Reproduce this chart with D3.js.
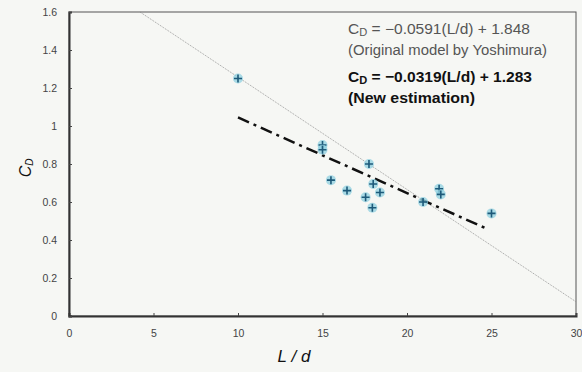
<!DOCTYPE html>
<html>
<head>
<meta charset="utf-8">
<script src="https://cdn.jsdelivr.net/npm/d3@7"></script>
<style>
  body { margin: 0; background: #f6f7f4; }
  svg { display: block; }
</style>
</head>
<body>
<div id="chart"></div>
<script>
const width = 582, height = 372;
const margin = ({top: 12, right: 5, bottom: 56, left: 69});

// measured points (L/d, C_D)
const ldValues = [10, 15, 15, 15.5, 16.45, 17.55, 17.75, 17.95, 18, 18.4, 20.95, 21.9, 22, 25];
const cdValues = [1.25, 0.9, 0.875, 0.715, 0.66, 0.625, 0.8, 0.57, 0.695, 0.65, 0.6, 0.67, 0.64, 0.54];

// line endpoints
const yoshimuraLine = [[4.2, 1.6], [30, 0.075]];
const newLine = [[10, 1.045], [24.7, 0.46]];

const xTicks = [0, 5, 10, 15, 20, 25, 30];
const yTicks = [0, 0.2, 0.4, 0.6, 0.8, 1, 1.2, 1.4, 1.6];

const svg = d3.select('#chart').append('svg')
  .attr('width', width)
  .attr('height', height)
  .style('font-family', 'Arial, "Liberation Sans", sans-serif');

svg.append('rect').attr('width', width).attr('height', height).attr('fill', '#f6f7f4');

const x = d3.scaleLinear().domain([0, 30]).range([margin.left, width - margin.right - 1]);
const y = d3.scaleLinear().domain([0, 1.6]).range([height - margin.bottom, margin.top]);

// frame: top/right thin
svg.append('rect')
  .attr('x', x(0)).attr('y', y(1.6))
  .attr('width', x(30) - x(0)).attr('height', y(0) - y(1.6))
  .attr('fill', 'none').attr('stroke', '#555').attr('stroke-width', 1);

const xAxis = svg.append('g')
  .attr('transform', `translate(0,${y(0)})`)
  .call(d3.axisBottom(x).tickValues(xTicks).tickSize(-3).tickPadding(14).tickFormat(d3.format('d')));
xAxis.select('.domain').attr('stroke', '#333').attr('stroke-width', 2);
xAxis.selectAll('.tick line').attr('stroke', '#444');
xAxis.selectAll('text').attr('fill', '#444').attr('font-size', 10.5);

const yAxis = svg.append('g')
  .attr('transform', `translate(${x(0)},0)`)
  .call(d3.axisLeft(y).tickValues(yTicks).tickSize(-3).tickPadding(12).tickFormat(d => String(+d.toFixed(1))));
yAxis.select('.domain').attr('stroke', '#333').attr('stroke-width', 2);
yAxis.selectAll('.tick line').attr('stroke', '#444');
yAxis.selectAll('text').attr('fill', '#444').attr('font-size', 10.5);

const line = d3.line().x(d => x(d[0])).y(d => y(d[1]));

svg.append('path')
  .datum(yoshimuraLine)
  .attr('d', line)
  .attr('fill', 'none')
  .attr('stroke', '#888')
  .attr('stroke-width', 0.8)
  .attr('stroke-dasharray', '1,1');

svg.append('path')
  .datum(newLine)
  .attr('d', line)
  .attr('fill', 'none')
  .attr('stroke', '#111')
  .attr('stroke-width', 2.5)
  .attr('stroke-dasharray', '12,5,3,5');

const pts = ldValues.map((v, i) => [v, cdValues[i]]);
const marks = svg.append('g').selectAll('g').data(pts).join('g')
  .attr('transform', d => `translate(${x(d[0])},${y(d[1])})`);
marks.append('circle').attr('r', 5).attr('fill', '#8fd0e0').attr('opacity', 0.75);
marks.append('path').attr('d', 'M-4,0H4M0,-4V4').attr('stroke', '#1d5a7a').attr('stroke-width', 1.6);

// equations
const tx = 348;
svg.append('text').attr('x', tx).attr('y', 34).attr('font-size', 14).attr('fill', '#555')
  .attr('textLength', 182).attr('lengthAdjust', 'spacingAndGlyphs')
  .html('C<tspan font-size="10" dy="2">D</tspan><tspan dy="-2"> = \u22120.0591(L/d) + 1.848</tspan>');
svg.append('text').attr('x', tx).attr('y', 55).attr('font-size', 14).attr('fill', '#555')
  .attr('textLength', 199).attr('lengthAdjust', 'spacingAndGlyphs')
  .text('(Original model by Yoshimura)');
svg.append('text').attr('x', tx).attr('y', 82).attr('font-size', 15.5).attr('font-weight', 'bold').attr('fill', '#111')
  .attr('textLength', 184).attr('lengthAdjust', 'spacingAndGlyphs')
  .html('C<tspan font-size="11" dy="2">D</tspan><tspan dy="-2"> = \u22120.0319(L/d) + 1.283</tspan>');
svg.append('text').attr('x', tx).attr('y', 103).attr('font-size', 15.5).attr('font-weight', 'bold').attr('fill', '#111')
  .attr('textLength', 127).attr('lengthAdjust', 'spacingAndGlyphs')
  .text('(New estimation)');

// axis titles
svg.append('text')
  .attr('x', 294).attr('y', 362)
  .attr('text-anchor', 'middle').attr('font-size', 17).attr('font-style', 'italic').attr('fill', '#111')
  .text('L / d');

svg.append('text')
  .attr('transform', `translate(31,${y(0.78)}) rotate(-90)`)
  .attr('text-anchor', 'middle').attr('font-size', 16).attr('font-style', 'italic').attr('fill', '#111')
  .html('C<tspan font-size="10" dy="2">D</tspan>');
</script>
</body>
</html>
